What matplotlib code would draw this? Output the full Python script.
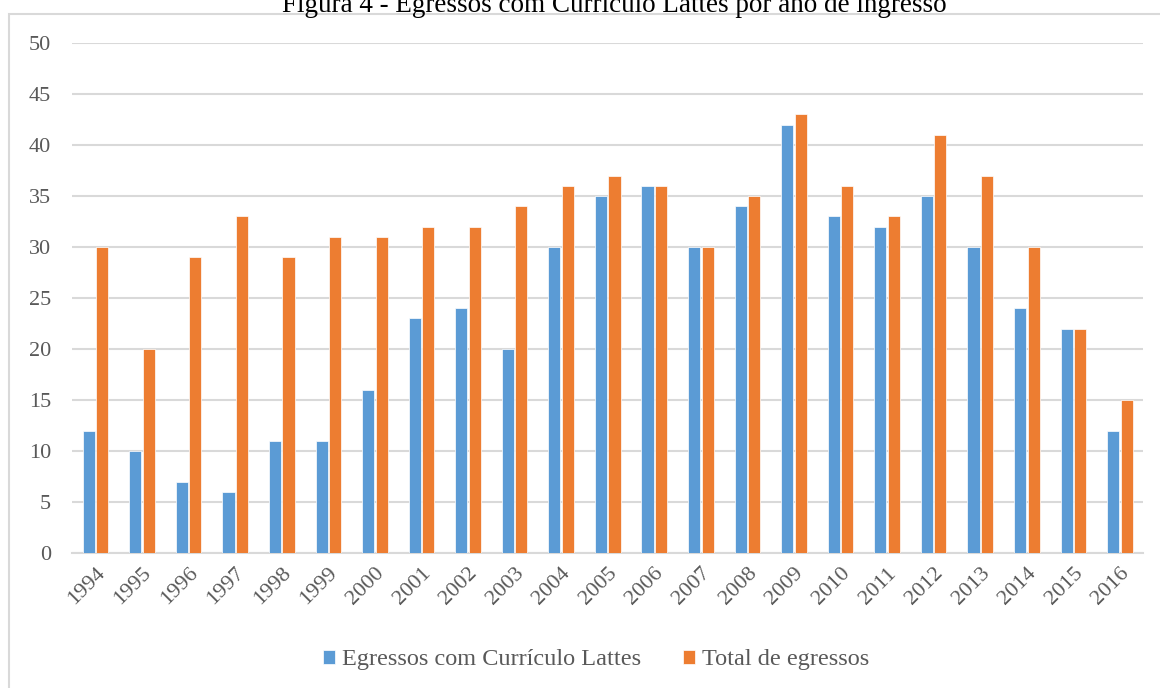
import matplotlib
matplotlib.use("Agg")
import matplotlib.pyplot as plt
import numpy as np
from matplotlib.patches import Rectangle

years = ["1994", "1995", "1996", "1997", "1998", "1999", "2000", "2001", "2002", "2003",
         "2004", "2005", "2006", "2007", "2008", "2009", "2010", "2011", "2012", "2013",
         "2014", "2015", "2016"]
lattes = [12, 10, 7, 6, 11, 11, 16, 23, 24, 20, 30, 35, 36, 30, 34, 42, 33, 32, 35, 30, 24, 22, 12]
total = [30, 20, 29, 33, 29, 31, 31, 32, 32, 34, 36, 37, 36, 30, 35, 43, 36, 33, 41, 37, 30, 22, 15]

plt.rcParams['font.family'] = ['Liberation Serif', 'DejaVu Serif']

W, H = 1160, 688
fig = plt.figure(figsize=(W / 100, H / 100), dpi=100)
fig.patch.set_facecolor('white')

# outer chart frame
fig.patches.append(Rectangle((9 / W, -0.05), 1.2, 1 - 14 / H + 0.05, transform=fig.transFigure,
                             fill=False, edgecolor='#d9d9d9', linewidth=1.5, zorder=0))

ax = fig.add_axes([72 / W, 1 - 553 / H, (1143 - 72) / W, (553 - 43) / H])
x = np.arange(len(years))
bw = 0.26
ax.bar(x - 0.14, lattes, width=bw, color='#5B9BD5', edgecolor='white', linewidth=0.5,
       label='Egressos com Currículo Lattes', zorder=3)
ax.bar(x + 0.15, total, width=bw, color='#ED7D31', edgecolor='white', linewidth=0.5,
       label='Total de egressos', zorder=3)

ax.set_xlim(-0.5, len(years) - 0.5)
ax.set_ylim(0, 50)
ax.set_yticks(range(0, 51, 5))
ax.yaxis.grid(True, color='#d9d9d9', linewidth=1.5, zorder=0)
ax.set_axisbelow(True)
for s in ['top', 'right', 'left']:
    ax.spines[s].set_visible(False)
ax.spines['bottom'].set_color('#d9d9d9')
ax.spines['bottom'].set_linewidth(1.5)
ax.tick_params(axis='both', length=0, colors='#595959', labelsize=16)
ax.tick_params(axis='y', pad=15)
ax.set_xticks(x)
ax.set_xticklabels(years, rotation=45, ha='right', rotation_mode='anchor')
ax.tick_params(axis='x', pad=8)

fig.text(0.53, 1 - 12 / H, 'Figura 4 - Egressos com Currículo Lattes por ano de ingresso',
         ha='center', va='baseline', fontsize=19.5, color='black', zorder=5)

leg = fig.legend(loc='center', bbox_to_anchor=(0.514, 1 - 660 / H), ncol=2, frameon=False,
                 fontsize=17.5, handlelength=0.5, handleheight=0.5, handletextpad=0.3,
                 columnspacing=1.7, labelcolor='#595959')

fig.savefig('out.png', dpi=100, facecolor='white')
